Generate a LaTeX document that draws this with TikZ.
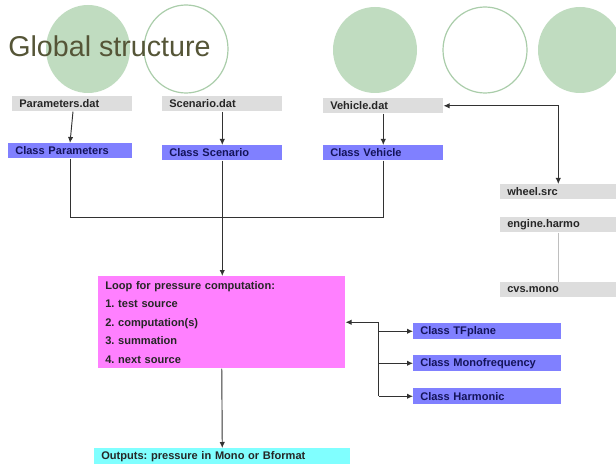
\documentclass[tikz,border=0pt]{standalone}
\usepackage{fontspec}
\setmainfont{Liberation Sans}
\usetikzlibrary{calc,arrows.meta}
\frenchspacing
\definecolor{circfill}{RGB}{192,220,192}
\definecolor{circline}{RGB}{170,205,170}
\definecolor{graybox}{RGB}{221,221,221}
\definecolor{bluebox}{RGB}{128,128,255}
\definecolor{pinkbox}{RGB}{255,128,255}
\definecolor{cyanbox}{RGB}{128,255,255}
\definecolor{titlecol}{RGB}{85,85,55}
\definecolor{navy}{RGB}{20,20,90}
\definecolor{linecol}{RGB}{50,50,50}
\tikzset{
  basebox/.style={rectangle, inner xsep=5.25pt, inner ysep=0pt, anchor=north west,
    align=left, font=\fontsize{8.3}{10}\selectfont\bfseries},
  datbox/.style={basebox, fill=graybox, text=black!85, minimum height=11.25pt, text width=#1},
  classbox/.style={basebox, fill=bluebox, text=navy, minimum height=11.25pt, text width=#1},
  conn/.style={draw=linecol, line width=0.7pt},
  arr/.style={conn, -{Latex[length=4.5pt,width=4pt]}},
  darr/.style={conn, {Latex[length=4.5pt,width=4pt]}-{Latex[length=4.5pt,width=4pt]}},
  circf/.style={fill=circfill, draw=none},
  circo/.style={draw=circline, line width=0.9pt, fill=white},
}
\begin{document}
\begin{tikzpicture}[x=0.75pt,y=-0.75pt]
\useasboundingbox (0,0) rectangle (616,466);
\clip (0,0) rectangle (616,466);
% decorative circles
\fill[circf] (88,49) ellipse [x radius=42, y radius=44];
\draw[circo, fill=none] (186,49) ellipse [x radius=42, y radius=44];
\fill[circf] (375,50) ellipse [x radius=42, y radius=43];
\draw[circo] (485,50) ellipse [x radius=42, y radius=43];
\fill[circf] (580,50) ellipse [x radius=42, y radius=43];
% title
\node[anchor=base west, inner sep=0pt, text=titlecol, font=\fontsize{21.5}{24}\selectfont] (title) at (8,57) {Global structure};
% data files
\node[datbox=79.5pt] (pdat) at (12,96) {Parameters.dat};
\node[datbox=79.5pt] (sdat) at (162,96) {Scenario.dat};
\node[datbox=79.5pt] (vdat) at (323,98) {Vehicle.dat};
% classes
\node[classbox=82.5pt] (cpar) at (8,143) {Class Parameters};
\node[classbox=79.5pt] (csce) at (162,145) {Class Scenario};
\node[classbox=79.5pt] (cveh) at (323,145) {Class Vehicle};
% right side sources
\node[datbox=76.5pt] (wheel) at (500,184) {wheel.src};
\node[datbox=76.5pt] (engine) at (500,217) {engine.harmo};
\node[datbox=76.5pt] (cvs) at (500,282) {cvs.mono};
% loop
\node[basebox, fill=pinkbox, text=black!85, text width=174.75pt, minimum height=69pt,
  font=\fontsize{8.3}{13.9}\selectfont\bfseries] (loop) at (98,276)
  {Loop for pressure computation:\\1. test source\\2. computation(s)\\3. summation\\4. next source};
% source classes
\node[classbox=100.5pt, minimum height=12pt] (tf) at (413,323) {Class TFplane};
\node[classbox=100.5pt, minimum height=12pt] (mono) at (413,355) {Class Monofrequency};
\node[classbox=100.5pt, minimum height=12pt] (harm) at (413,388) {Class Harmonic};
% output
\node[basebox, fill=cyanbox, text=black!85, text width=181.5pt, minimum height=12pt] (out) at (94,448) {Outputs: pressure in Mono or Bformat};
% connectors
\draw[arr] ($(pdat.south west)+(61,0)$) -- ($(cpar.north west)+(62,0)$);
\draw[arr] (sdat.south) -- (csce.north);
\draw[arr] (vdat.south) -- (cveh.north);
\coordinate (j) at ($(csce.south)+(0,57)$);
\draw[conn] ($(cpar.south west)+(62,0)$) |- (j);
\draw[conn] (cveh.south) |- (j);
\draw[arr] (csce.south) -- (csce.south |- loop.north);
\draw[darr] (vdat.east) -| (wheel.north);
\draw[draw=black!25, line width=0.7pt] (engine.south) -- (cvs.north);
\coordinate (bus) at ($(loop.east)+(33,0)$);
\draw[arr] (bus) -- (loop.east);
\draw[conn] (bus) -- (bus |- harm.west);
\draw[arr] (bus |- tf.west) -- (tf.west);
\draw[arr] (bus |- mono.west) -- (mono.west);
\draw[arr] (bus |- harm.west) -- (harm.west);
\draw[arr] (loop.south) -- (out.north);
\end{tikzpicture}
\end{document}
